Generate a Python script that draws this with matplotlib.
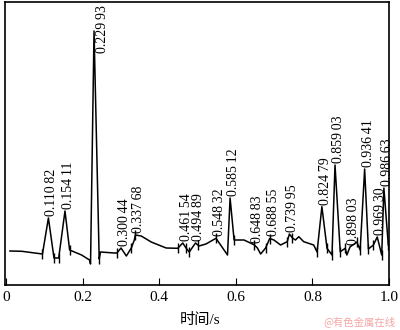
import numpy as np
import matplotlib.pyplot as plt

# кривая сигнала: время (с) и амплитуда (усл. ед.)
t = [0.0104, 0.0416, 0.0753, 0.0953, 0.11082, 0.1254, 0.1377, 0.15411, 0.1662,
     0.1974, 0.2182, 0.2208, 0.22993, 0.2434, 0.2468, 0.2831, 0.2896, 0.30044,
     0.3143, 0.3273, 0.3351, 0.33768, 0.3532, 0.3792, 0.4182, 0.4486, 0.46154,
     0.4701, 0.4787, 0.4875, 0.49489, 0.5039, 0.5221, 0.54832, 0.5784, 0.58512,
     0.5956, 0.6216, 0.64883, 0.6564, 0.6649, 0.6779, 0.68855, 0.6995, 0.7169,
     0.7343, 0.73995, 0.7480, 0.7558, 0.7645, 0.7774, 0.8034, 0.8122, 0.82479,
     0.8382, 0.8512, 0.85903, 0.8727, 0.8857, 0.8901, 0.89803, 0.9161, 0.9247,
     0.93641, 0.9462, 0.9592, 0.96930, 0.9810, 0.98663, 0.9982]
amp = [34, 33.7, 32, 31, 67, 27, 27, 74, 35, 30, 25, 21, 254, 26, 33, 32, 32, 37,
       29, 37, 45, 50, 49, 43, 37, 36.7, 42, 37, 33, 38, 42, 39, 41, 46.7, 30, 87,
       45, 45, 40, 37, 31, 37, 46.5, 45, 40, 43.3, 51, 47, 45, 48.3, 43.3, 40, 33,
       78.3, 36.7, 30, 120, 33.3, 36.7, 30, 38, 43, 35, 116, 36, 40, 48, 30, 97, 40]

# подписанные пики
peak_t = [0.11082, 0.15411, 0.22993, 0.30044, 0.33768, 0.46154, 0.49489, 0.54832,
          0.58512, 0.64883, 0.68855, 0.73995, 0.82479, 0.85903, 0.89803, 0.93641,
          0.96930, 0.98663]
peak_txt = ['0.110\u200982', '0.154\u200911', '0.229\u200993', '0.300\u200944',
            '0.337\u200968', '0.461\u200954', '0.494\u200989', '0.548\u200932',
            '0.585\u200912', '0.648\u200983', '0.688\u200955', '0.739\u200995',
            '0.824\u200979', '0.859\u200903', '0.898\u200903', '0.936\u200941',
            '0.969\u200930', '0.986\u200963']

# короткие вертикальные засечки на кривой
tick_t = [0.0953, 0.1254, 0.1377, 0.1662, 0.2434, 0.2896, 0.3273, 0.33768,
          0.4486, 0.4701, 0.4787, 0.5004, 0.54832, 0.5956, 0.64883, 0.6779,
          0.68855, 0.7343, 0.7480, 0.8122, 0.8382, 0.8512, 0.8727, 0.8857,
          0.9161, 0.9247, 0.9462, 0.9592, 0.9810, 0.9982]

xticks = [0, 0.2, 0.4, 0.6, 0.8, 1.0]
xtick_labels = ['0', '0.2', '0.4', '0.6', '0.8', '1.0']

plt.rcParams['font.family'] = ['Liberation Serif', 'Noto Sans CJK SC']

fig = plt.figure(figsize=(4, 3.3), dpi=100)
ax = fig.add_axes([5 / 400, 45 / 330, 384 / 400, 283 / 330])

ax.plot(t, amp, color='black', linewidth=1.1)
tick_y = np.interp(tick_t, t, amp)
ax.plot(tick_t, tick_y, linestyle='none', marker='|', markersize=7,
        markeredgewidth=1.0, color='black')

for pt, txt in zip(peak_t, peak_txt):
    top = np.interp(pt, t, amp)
    # высокая подпись не должна вылезать за рамку - ставим сбоку от пика
    if top + 2 > 232:
        ax.text(pt + 0.021, 232, txt, rotation=90, ha='center',
                va='bottom', fontsize=10)
    else:
        ax.text(pt + 0.009, top + 2, txt, rotation=90, ha='center',
                va='bottom', fontsize=10)

ax.set_xlim(-0.0025, 0.995)
ax.set_ylim(0, 283)
ax.set_yticks([])
ax.set_xticks(xticks)
ax.set_xticklabels(xtick_labels, fontsize=11)
ax.tick_params(axis='x', direction='in', length=5, pad=4)
for s in ax.spines.values():
    s.set_linewidth(1.2)

fig.text(0.5, 10 / 330, '时间/s', ha='center', va='center', fontsize=11)
fig.text(0.99, 8 / 330, '@有色金属在线', ha='right', va='center',
         fontsize=7.5, color='#f3a6a6', family=['Noto Sans CJK SC'])

fig.savefig('out.png', dpi=100)
